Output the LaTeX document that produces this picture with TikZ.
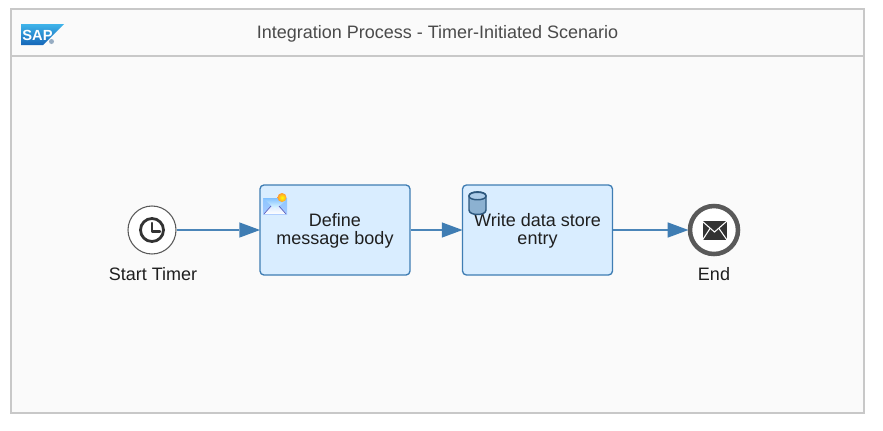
\documentclass[tikz,border=0pt]{standalone}
\usepackage{fontspec}
\setmainfont{Liberation Sans}
\usetikzlibrary{arrows.meta,shadings}
\definecolor{frameC}{HTML}{C8C8C8}
\definecolor{bgC}{HTML}{FAFAFA}
\definecolor{taskFill}{HTML}{D9EDFF}
\definecolor{blueC}{HTML}{3F7DB3}
\definecolor{lineC}{HTML}{4A85B8}
\definecolor{darkC}{HTML}{333333}
\definecolor{endC}{HTML}{595959}
\definecolor{textC}{HTML}{1F1F1F}
\definecolor{titleC}{HTML}{4A4A4A}
\definecolor{logoTop}{HTML}{3FB4EA}
\definecolor{logoBot}{HTML}{1566B8}
\tikzset{
  x=0.75pt,y=-0.75pt,
  frame/.style={draw=frameC,line width=1.1pt},
  task/.style={draw=blueC,fill=taskFill,line width=1pt,rounded corners=3pt,minimum width=112.5pt,minimum height=67.5pt,inner sep=0pt,align=center,text=textC,font=\fontsize{13.5}{13.5}\selectfont},
  startev/.style={circle,draw=endC,fill=white,line width=0.8pt,minimum size=36pt,inner sep=0pt},
  endev/.style={circle,draw=endC,fill=white,line width=3.4pt,minimum size=36pt,inner sep=0pt},
  lbl/.style={text=textC,font=\fontsize{13.5}{15}\selectfont,inner sep=0pt},
  flow/.style={draw=lineC,line width=0.8pt,-{Triangle[length=15.5pt,width=11.5pt,fill=blueC,line width=0pt]},shorten >=-0.5pt},
}
\begin{document}
\begin{tikzpicture}
\useasboundingbox (0,0) rectangle (883,430);
\fill[white] (0,0) rectangle (883,430);
\fill[bgC] (11,9) rectangle (864,413);
\draw[frame] (11,9) rectangle (864,413);
\draw[frame] (11,56) -- (864,56);
\node[text=titleC,font=\fontsize{13.5}{15}\selectfont,inner sep=0pt] (title) at (437.5,34) {Integration Process - Timer-Initiated Scenario};
% SAP logo
\shade[top color=logoTop,bottom color=logoBot] (21,24) -- (64,24) -- (43,45) -- (21,45) -- cycle;
\node[text=white,font=\fontsize{11}{11}\bfseries\selectfont,inner sep=0pt] (sap) at (37.5,35) {SAP};
\fill[logoBot!45!gray!60] (51.5,41.5) circle (2.5);
% nodes
\node[startev] (start) at (152,230) {};
\node[lbl] (startlbl) at (153,274) {Start Timer};
\node[task] (t1) at (335,230) {\rule{0pt}{11pt}Define\\message body};
\node[task] (t2) at (537.5,230) {\rule{0pt}{11pt}Write data store\\entry};
\node[endev] (end) at (714,230) {};
\node[lbl] (endlbl) at (714,274) {End};
% clock
\draw[darkC,line width=2.1pt] (start.center) circle (11.5);
\draw[darkC,line width=1.8pt,line cap=round,line join=round] (152,223) -- (152,231.5) -- (160,231.5);
% envelope
\fill[darkC] (702.5,221) rectangle (727,240);
\draw[white,line width=0.8pt] (702,221) -- (714.5,232) -- (727,221);
\draw[white,line width=0.8pt] (702.5,240) -- (710,228.5);
\draw[white,line width=0.8pt] (727,240) -- (719,228.5);
% message icon
\shade[top color=cyan!50!blue!45,bottom color=cyan!40!blue!35] (263,198) rectangle (287,214);
\shade[top color=cyan!40!blue!20,bottom color=white] (263.5,214) -- (275,203) -- (286.5,214) -- cycle;
\shade[top color=cyan!50!blue!50,bottom color=cyan!8] (263,198) -- (282,198) -- (287,200) -- (275,209) -- cycle;
\draw[gray!60!blue!90,line width=0.5pt] (264,214) -- (271,206);
\draw[gray!60!blue!90,line width=0.5pt] (286,214) -- (279,206);
\shade[inner color=yellow,outer color=orange!80] (282,197.5) circle (4.5);
% data store icon
\draw[blueC!70!black,fill=blueC!60,line width=1.1pt] (469,196) -- (469,210) .. controls (469,216) and (486,216) .. (486,210) -- (486,196) .. controls (486,190.5) and (469,190.5) .. (469,196) -- cycle;
\draw[blueC!70!black,fill=taskFill!70!blueC,line width=1.1pt] (469,196) .. controls (469,201) and (486,201) .. (486,196) .. controls (486,191) and (469,191) .. (469,196) -- cycle;
% connectors
\draw[flow] (start) -- (t1);
\draw[flow] (t1) -- (t2);
\draw[flow] (t2) -- (end);
\end{tikzpicture}
\end{document}
